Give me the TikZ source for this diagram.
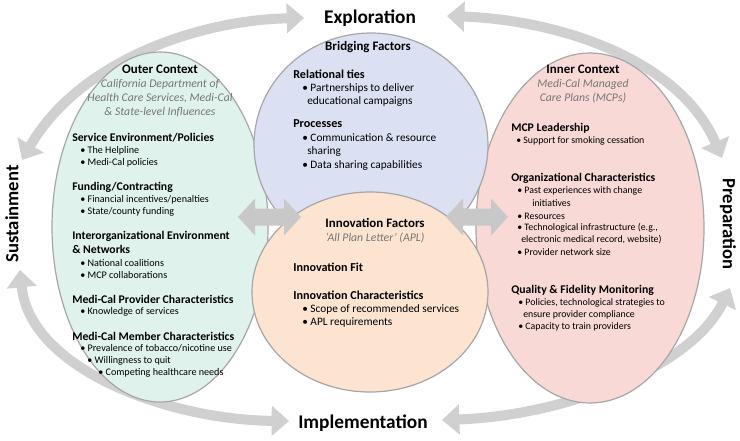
\documentclass[tikz,border=0pt]{standalone}
\usepackage{fontspec}
\setmainfont{Carlito}
\usetikzlibrary{arrows.meta}
\definecolor{arrowgray}{RGB}{208,208,208}
\definecolor{dblgray}{RGB}{200,200,200}
\definecolor{edgegray}{RGB}{166,166,166}
\definecolor{greenfill}{RGB}{223,243,236}
\definecolor{bluefill}{RGB}{219,224,243}
\definecolor{orangefill}{RGB}{252,228,208}
\definecolor{pinkfill}{RGB}{249,217,213}
\definecolor{subgray}{RGB}{118,118,118}
\begin{document}
\begin{tikzpicture}[x=0.75pt,y=-0.75pt,
  band/.style={draw=arrowgray, line width=7.5pt,
    arrows={Triangle[width=22pt,length=13pt]-Triangle[width=22pt,length=13pt]}},
  oval/.style={draw=edgegray, line width=0.9pt},
  dbl/.style={fill=dblgray},
  big/.style={font=\fontsize{14.5}{16}\selectfont\bfseries, inner sep=0},
  side/.style={font=\fontsize{14}{16}\selectfont\bfseries, inner sep=0},
  ttl/.style={font=\fontsize{9.7}{11}\selectfont\bfseries, inner sep=0},
  sub/.style={font=\fontsize{8.8}{10}\selectfont\itshape, text=subgray, inner sep=0},
  hd/.style={anchor=west, font=\fontsize{8.8}{10}\selectfont\bfseries, inner sep=0},
  bl/.style={anchor=west, font=\fontsize{7.6}{9}\selectfont, inner sep=0},
  pbl/.style={anchor=west, font=\fontsize{7.4}{9}\selectfont, inner sep=0},
  hdb/.style={anchor=west, font=\fontsize{9.1}{10}\selectfont\bfseries, inner sep=0},
  blb/.style={anchor=west, font=\fontsize{8.5}{10}\selectfont, inner sep=0}]
\useasboundingbox (0,0) rectangle (740,440);

% cycle labels
\node[big] (expl) at (370,18) {Exploration};
\node[big] (impl) at (363,423) {Implementation};
\node[side, rotate=90] (sust) at (12,214) {Sustainment};
\node[side, rotate=-90] (prep) at (728,224) {Preparation};

% arrow end points
\coordinate (tlA) at (22,160);
\coordinate (tlB) at (304,18);
\coordinate (trA) at (447,16);
\coordinate (trB) at (722,158);
\coordinate (blA) at (20,270);
\coordinate (blB) at (289,421);
\coordinate (brA) at (442,420);
\coordinate (brB) at (730,288);

% curved double-headed bands
\draw[band] (tlA) .. controls (80,60) and (200,20) .. (tlB);
\draw[band] (trA) .. controls (560,20) and (680,60) .. (trB);
\draw[band] (blA) .. controls (30,370) and (170,420) .. (blB);
\draw[band] (brA) .. controls (560,416) and (690,370) .. (brB);

% ovals
\draw[oval, fill=greenfill] (160,227) ellipse [x radius=81pt, y radius=131.25pt];
\draw[oval, fill=pinkfill] (590,228) ellipse [x radius=85.5pt, y radius=131.25pt];
\draw[oval, fill=bluefill] (371,145) ellipse [x radius=87.75pt, y radius=84pt];
\draw[oval, fill=orangefill] (370,292) ellipse [x radius=88.5pt, y radius=75pt];

% block double arrows
\fill[dbl] (238,217) -- (255,198.5) -- (255,208.5) -- (284,208.5) -- (284,198.5) -- (301,217)
  -- (284,235.5) -- (284,225.5) -- (255,225.5) -- (255,235.5) -- cycle;
\fill[dbl] (446,217) -- (463,198.5) -- (463,208.5) -- (491,208.5) -- (491,198.5) -- (508,217)
  -- (491,235.5) -- (491,225.5) -- (463,225.5) -- (463,235.5) -- cycle;

% Outer context
\node[ttl] (oc) at (160,69) {Outer Context};
\node[sub] (oc1) at (160,84) {California Department of};
\node[sub] (oc2) at (160,98) {Health Care Services, Medi-Cal};
\node[sub] (oc3) at (160,112) {\& State-level Influences};
\node[hd] (g1) at (72,138) {Service Environment/Policies};
\node[bl] (g2) at (80,151) {• The Helpline};
\node[bl] (g3) at (80,163) {• Medi-Cal policies};
\node[hd] (g4) at (72,187) {Funding/Contracting};
\node[bl] (g5) at (80,200) {• Financial incentives/penalties};
\node[bl] (g6) at (80,212) {• State/county funding};
\node[hd] (g7) at (72,236) {Interorganizational Environment};
\node[hd] (g8) at (72,249) {\& Networks};
\node[bl] (g9) at (80,263) {• National coalitions};
\node[bl] (g10) at (80,275) {• MCP collaborations};
\node[hd] (g11) at (72,299) {Medi-Cal Provider Characteristics};
\node[bl] (g12) at (80,312) {• Knowledge of services};
\node[hd] (g13) at (72,336) {Medi-Cal Member Characteristics};
\node[bl] (g14) at (80,348) {• Prevalence of tobacco/nicotine use};
\node[bl] (g15) at (87,361) {• Willingness to quit};
\node[bl] (g16) at (98,373) {• Competing healthcare needs};

% Bridging factors
\node[ttl] (bf) at (368,47) {Bridging Factors};
\node[hdb] (b1) at (293,74) {Relational ties};
\node[blb] (b2) at (302,88) {• Partnerships to deliver};
\node[blb] (b3) at (307,102) {educational campaigns};
\node[hdb] (b4) at (293,124) {Processes};
\node[blb] (b5) at (302,138) {• Communication \& resource};
\node[blb] (b6) at (307,152) {sharing};
\node[blb] (b7) at (302,166) {• Data sharing capabilities};

% Innovation factors
\node[ttl] (inf) at (375,223) {Innovation Factors};
\node[sub] (inf1) at (375,238) {‘All Plan Letter’ (APL)};
\node[hdb] (o1) at (293,267) {Innovation Fit};
\node[hdb] (o2) at (293,295) {Innovation Characteristics};
\node[blb] (o3) at (302,309) {• Scope of recommended services};
\node[blb] (o4) at (302,323) {• APL requirements};

% Inner context
\node[ttl] (ic) at (583,69) {Inner Context};
\node[sub] (ic1) at (583,84) {Medi-Cal Managed};
\node[sub] (ic2) at (583,98) {Care Plans (MCPs)};
\node[hd] (p1) at (511,128) {MCP Leadership};
\node[pbl] (p2) at (516,141) {• Support for smoking cessation};
\node[hd] (p3) at (511,178) {Organizational Characteristics};
\node[pbl] (p4) at (517,191) {• Past experiences with change};
\node[pbl] (p5) at (532,203) {initiatives};
\node[pbl] (p6) at (517,216) {• Resources};
\node[pbl] (p7) at (517,228) {• Technological infrastructure (e.g.,};
\node[pbl] (p8) at (521,240) {electronic medical record, website)};
\node[pbl] (p9) at (517,252) {• Provider network size};
\node[hd] (p10) at (511,290) {Quality \& Fidelity Monitoring};
\node[pbl] (p11) at (518,303) {• Policies, technological strategies to};
\node[pbl] (p12) at (523,315) {ensure provider compliance};
\node[pbl] (p13) at (518,327) {• Capacity to train providers};
\end{tikzpicture}
\end{document}
